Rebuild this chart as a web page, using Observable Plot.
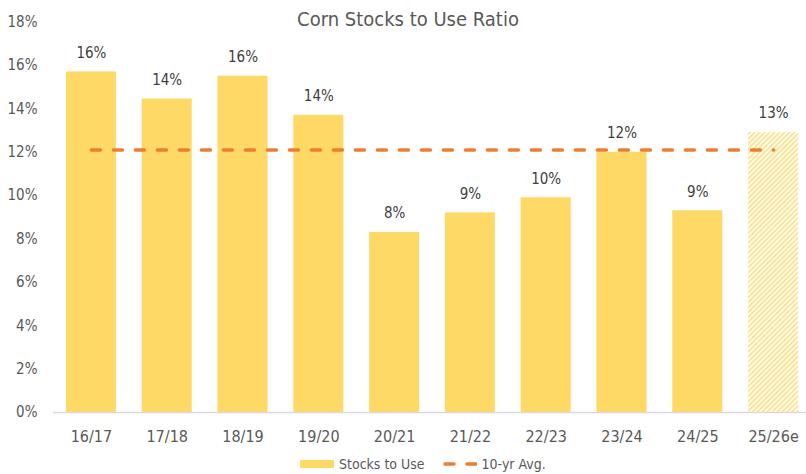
<!DOCTYPE html>
<html>
<head>
<meta charset="utf-8">
<script src="https://cdn.jsdelivr.net/npm/d3@7"></script>
<script src="https://cdn.jsdelivr.net/npm/@observablehq/plot@0.6"></script>
<style>
  html, body { margin: 0; padding: 0; background: #fff; }
  #wrap { position: relative; width: 806px; height: 474px; overflow: hidden;
          font-family: "Liberation Sans Narrow", "DejaVu Sans Condensed", sans-serif; }
  #title { position: absolute; top: 7px; left: 0; width: 816px; text-align: center;
           font-size: 20px; color: #595959; }
  #legend { position: absolute; top: 456px; left: 300px; display: flex; align-items: center;
            font-size: 14px; color: #595959; white-space: nowrap; }
  #legend .sw { display: inline-block; width: 34px; height: 8px; background: #FFD966; margin-right: 5px; }
  #chart { position: absolute; top: 0; left: 0; }
</style>
</head>
<body>
<div id="wrap">
  <div id="chart"></div>
  <div id="title">Corn Stocks to Use Ratio</div>
  <div id="legend">
    <span class="sw"></span><span>Stocks to Use</span>
    <svg width="34" height="8" style="margin-left:18px;margin-right:5px"><line x1="2" x2="34" y1="4" y2="4" stroke="#ED7D31" stroke-width="3.5" stroke-dasharray="9,13" stroke-linecap="round"/></svg><span>10-yr Avg.</span>
  </div>
</div>
<script>
const categories = ["16/17","17/18","18/19","19/20","20/21","21/22","22/23","23/24","24/25","25/26e"];
const stocksToUse = [15.7, 14.45, 15.5, 13.7, 8.3, 9.2, 9.9, 12.0, 9.3, 12.9];
const estimated = [false, false, false, false, false, false, false, false, false, true];
const avg10yr = 12.1;
const yTicks = [0, 2, 4, 6, 8, 10, 12, 14, 16, 18];

const rows = categories.map((c, i) => ({cat: c, v: stocksToUse[i], est: estimated[i]}));
const font = `"Liberation Sans Narrow", "DejaVu Sans Condensed", sans-serif`;

const svg = Plot.plot({
  width: 806,
  height: 450,
  marginLeft: 53,
  marginRight: 0,
  marginTop: 0,
  marginBottom: 38,
  style: {fontFamily: font, fontSize: "15px", color: "#595959", background: "transparent"},
  x: {domain: categories, range: [53, 811], paddingInner: 0.34, paddingOuter: 0.17, round: false, label: null},
  y: {domain: [0, 18], range: [412, 21.5], label: null},
  marks: [
    Plot.axisX({tickSize: 0, tickPadding: 18, fontSize: 16, fill: "#595959"}),
    Plot.axisY({ticks: yTicks, tickSize: 0, tickPadding: 16, tickFormat: d => d + "%", fontSize: 15, fill: "#595959"}),
    Plot.barY(rows.filter(d => !d.est), {x: "cat", y: "v", fill: "#FFD966"}),
    Plot.barY(rows.filter(d => d.est), {x: "cat", y: "v", fill: "url(#hatch)"}),
    Plot.ruleY([0], {stroke: "#D9D9D9", strokeWidth: 1.5}),
    Plot.lineY(categories, {x: d => d, y: () => avg10yr, stroke: "#ED7D31", strokeWidth: 3.5,
      strokeDasharray: "9,13", strokeLinecap: "round"}),
    Plot.text(rows, {x: "cat", y: "v", text: d => Math.round(d.v) + "%", dy: -19,
      fill: "#404040", fontSize: 15})
  ]
});

const defs = d3.select(svg).insert("defs", ":first-child");
const pat = defs.append("pattern").attr("id", "hatch").attr("patternUnits", "userSpaceOnUse")
  .attr("width", 3.5).attr("height", 3.5).attr("patternTransform", "rotate(45)");
pat.append("rect").attr("width", 3.5).attr("height", 3.5).attr("fill", "#FFFDF5");
pat.append("line").attr("x1", 0.8).attr("x2", 0.8).attr("y1", 0).attr("y2", 3.5)
  .attr("stroke", "#FFD966").attr("stroke-width", 1.3);

document.getElementById("chart").appendChild(svg);
</script>
</body>
</html>
